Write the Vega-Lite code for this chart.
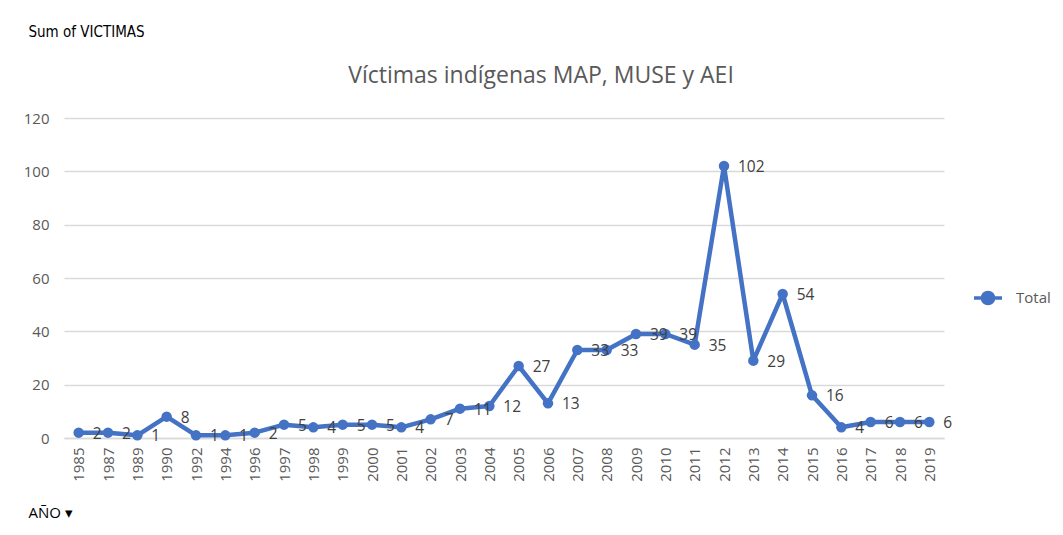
{
  "$schema": "https://vega.github.io/schema/vega-lite/v6.json",
  "width": 880,
  "height": 320,
  "autosize": {"type": "none"},
  "padding": {"left": 64, "top": 118, "right": 119, "bottom": 97},
  "background": "white",
  "config": {
    "view": {"stroke": null},
    "font": "Open Sans"
  },
  "title": {
    "text": "Víctimas indígenas MAP, MUSE y AEI",
    "fontSize": 23,
    "fontWeight": "normal",
    "color": "#595959",
    "anchor": "middle",
    "frame": "group",
    "dx": 37,
    "dy": 64,
    "offset": 0,
    "font": "Open Sans"
  },
  "data": {
    "values": [
      {"anio": "1985", "victimas": 2, "serie": "Total"},
      {"anio": "1987", "victimas": 2, "serie": "Total"},
      {"anio": "1989", "victimas": 1, "serie": "Total"},
      {"anio": "1990", "victimas": 8, "serie": "Total"},
      {"anio": "1992", "victimas": 1, "serie": "Total"},
      {"anio": "1994", "victimas": 1, "serie": "Total"},
      {"anio": "1996", "victimas": 2, "serie": "Total"},
      {"anio": "1997", "victimas": 5, "serie": "Total"},
      {"anio": "1998", "victimas": 4, "serie": "Total"},
      {"anio": "1999", "victimas": 5, "serie": "Total"},
      {"anio": "2000", "victimas": 5, "serie": "Total"},
      {"anio": "2001", "victimas": 4, "serie": "Total"},
      {"anio": "2002", "victimas": 7, "serie": "Total"},
      {"anio": "2003", "victimas": 11, "serie": "Total"},
      {"anio": "2004", "victimas": 12, "serie": "Total"},
      {"anio": "2005", "victimas": 27, "serie": "Total"},
      {"anio": "2006", "victimas": 13, "serie": "Total"},
      {"anio": "2007", "victimas": 33, "serie": "Total"},
      {"anio": "2008", "victimas": 33, "serie": "Total"},
      {"anio": "2009", "victimas": 39, "serie": "Total"},
      {"anio": "2010", "victimas": 39, "serie": "Total"},
      {"anio": "2011", "victimas": 35, "serie": "Total"},
      {"anio": "2012", "victimas": 102, "serie": "Total"},
      {"anio": "2013", "victimas": 29, "serie": "Total"},
      {"anio": "2014", "victimas": 54, "serie": "Total"},
      {"anio": "2015", "victimas": 16, "serie": "Total"},
      {"anio": "2016", "victimas": 4, "serie": "Total"},
      {"anio": "2017", "victimas": 6, "serie": "Total"},
      {"anio": "2018", "victimas": 6, "serie": "Total"},
      {"anio": "2019", "victimas": 6, "serie": "Total"}
    ]
  },
  "encoding": {
    "x": {
      "field": "anio",
      "type": "ordinal",
      "scale": {"type": "point", "padding": 0.5},
      "axis": {
        "title": "AÑO  ▾",
        "titleAngle": 0,
        "titleAlign": "left",
        "titleBaseline": "middle",
        "titleX": -36,
        "titleY": 74,
        "titleFontSize": 15,
        "titleFontWeight": "normal",
        "titleColor": "#000000",
        "labelAngle": -90,
        "labelAlign": "right",
        "labelBaseline": "middle",
        "labelPadding": 9,
        "labelFontSize": 15,
        "labelColor": "#595959",
        "ticks": false,
        "domainColor": "#d9d9d9",
        "domainWidth": 1.5,
        "grid": false
      }
    },
    "y": {
      "field": "victimas",
      "type": "quantitative",
      "scale": {"domain": [0, 120], "nice": false},
      "axis": {
        "title": "Sum of VICTIMAS",
        "titleAngle": 0,
        "titleAlign": "left",
        "titleBaseline": "middle",
        "titleX": -36,
        "titleY": -87,
        "titleFontSize": 15,
        "titleFont": "DejaVu Sans Condensed",
        "titleFontWeight": "normal",
        "titleColor": "#000000",
        "values": [0, 20, 40, 60, 80, 100, 120],
        "labelFontSize": 15,
        "labelColor": "#595959",
        "labelPadding": 15,
        "ticks": false,
        "domain": false,
        "gridColor": "#d9d9d9",
        "gridWidth": 1.5
      }
    },
    "color": {
      "field": "serie",
      "type": "nominal",
      "scale": {"range": ["#4472C4"]},
      "legend": {
        "title": null,
        "orient": "none",
        "legendX": 908,
        "legendY": 164,
        "symbolType": "M-1,0L1,0M0.4,0A0.4,0.4,0,1,1,-0.4,0A0.4,0.4,0,1,1,0.4,0Z",
        "symbolSize": 784,
        "symbolStrokeWidth": 3.5,
        "symbolFillColor": "#4472C4",
        "symbolStrokeColor": "#4472C4",
        "labelFontSize": 15,
        "labelColor": "#595959",
        "labelOffset": 12
      }
    }
  },
  "layer": [
    {
      "mark": {"type": "line", "strokeWidth": 4.5, "strokeJoin": "round", "strokeCap": "round"}
    },
    {
      "mark": {"type": "point", "filled": true, "size": 110, "opacity": 1}
    },
    {
      "mark": {"type": "text", "align": "left", "baseline": "middle", "dx": 14, "dy": 1, "fontSize": 15.5, "color": "#404040"},
      "encoding": {
        "text": {"field": "victimas", "type": "quantitative"},
        "color": {"value": "#404040"}
      }
    }
  ]
}
